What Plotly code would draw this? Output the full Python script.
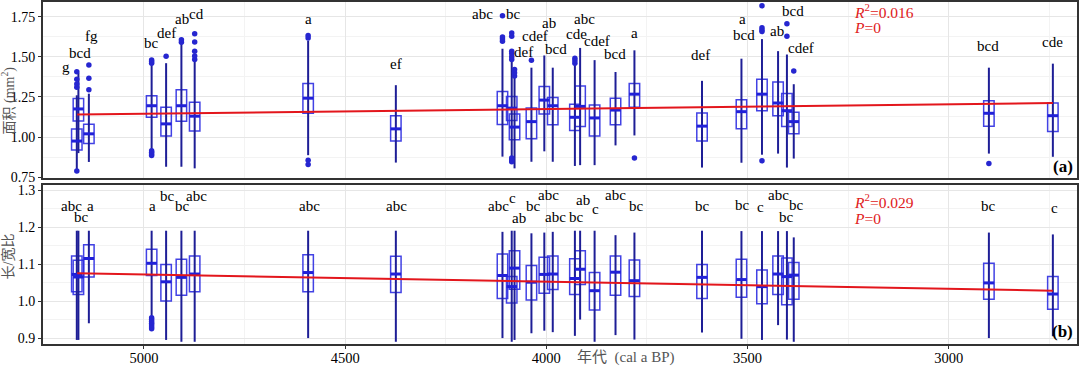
import plotly.graph_objects as go

# ---------------- data ----------------
years = [5167, 5163, 5137, 4981, 4945, 4907, 4874, 4592, 4374, 4109, 4086, 4079, 4037, 4005,
         3984, 3929, 3916, 3880, 3828, 3781, 3613, 3515, 3464, 3424, 3402, 3385, 2900, 2741]

# panel (a): area (mm2)
area_q1 = [0.920, 1.100, 0.960, 1.123, 1.006, 1.099, 1.037, 1.148, 0.975, 1.078, 1.103, 0.983, 0.990, 1.144,
           1.076, 1.041, 1.066, 1.006, 1.076, 1.185, 0.975, 1.051, 1.164, 1.133, 1.066, 1.020, 1.068, 1.035]
area_med = [0.975, 1.175, 1.020, 1.195, 1.082, 1.195, 1.130, 1.242, 1.051, 1.195, 1.180, 1.062, 1.096, 1.230,
            1.195, 1.123, 1.191, 1.119, 1.168, 1.267, 1.068, 1.158, 1.267, 1.212, 1.164, 1.096, 1.148, 1.133]
area_q3 = [1.050, 1.240, 1.080, 1.257, 1.185, 1.294, 1.216, 1.333, 1.133, 1.284, 1.253, 1.144, 1.181, 1.315,
           1.247, 1.205, 1.318, 1.199, 1.242, 1.333, 1.150, 1.232, 1.360, 1.343, 1.271, 1.154, 1.226, 1.212]
area_lo = [0.800, 0.900, 0.845, 0.920, 0.815, 0.815, 0.805, 0.887, 0.841, 0.878, 0.880, 0.805, 0.846, 0.911,
           0.846, 0.820, 0.825, 0.825, 0.948, 1.010, 0.810, 0.840, 0.890, 0.897, 0.810, 0.866, 0.897, 0.877]
area_hi = [1.260, 1.400, 1.270, 1.455, 1.460, 1.590, 1.470, 1.600, 1.323, 1.550, 1.470, 1.370, 1.432, 1.508,
           1.432, 1.450, 1.555, 1.479, 1.405, 1.540, 1.350, 1.488, 1.610, 1.535, 1.514, 1.329, 1.432, 1.457]
area_out = [[0.788, 1.31, 1.33, 1.36, 1.407], [], [1.294, 1.366, 1.448],
            [0.885, 0.895, 0.905, 0.915, 1.46, 1.47, 1.48], [1.503], [1.59, 1.606], [1.483, 1.504, 1.534, 1.592, 1.643],
            [0.829, 0.856, 1.617, 1.632], [], [1.596, 1.610, 1.623, 1.755],
            [0.846, 0.858, 0.870, 1.483, 1.50, 1.52, 1.535, 1.627, 1.648], [1.38, 1.40, 1.42], [1.479], [],
            [], [1.46, 1.475, 1.49], [], [], [], [0.870],
            [], [], [0.852, 1.657, 1.667, 1.68, 1.817], [], [1.627, 1.705], [1.411], [0.835], []]

# panel (b): length/width ratio
ratio_q1 = [1.025, 1.018, 1.065, 1.069, 1.000, 1.016, 1.025, 1.025, 1.023, 1.007, 0.995, 1.032, 1.003, 1.021,
            1.031, 1.018, 1.045, 0.976, 1.016, 1.012, 1.007, 1.010, 0.993, 1.018, 0.990, 1.005, 1.005, 0.978]
ratio_med = [1.072, 1.065, 1.115, 1.102, 1.052, 1.064, 1.073, 1.077, 1.073, 1.069, 1.039, 1.089, 1.051, 1.072,
             1.073, 1.061, 1.086, 1.028, 1.078, 1.055, 1.064, 1.058, 1.039, 1.073, 1.066, 1.070, 1.049, 1.019]
ratio_q3 = [1.122, 1.110, 1.152, 1.140, 1.099, 1.113, 1.122, 1.125, 1.121, 1.127, 1.066, 1.136, 1.096, 1.118,
            1.122, 1.114, 1.136, 1.077, 1.122, 1.111, 1.099, 1.113, 1.084, 1.122, 1.116, 1.104, 1.102, 1.066]
ratio_lo = [0.895, 0.895, 0.940, 0.960, 0.895, 0.890, 0.890, 0.900, 0.890, 0.900, 0.890, 0.895, 0.913, 0.920,
            0.916, 0.906, 0.950, 0.890, 0.908, 0.896, 0.915, 0.898, 0.895, 0.935, 0.896, 0.890, 0.900, 0.905]
ratio_hi = [1.190, 1.190, 1.190, 1.190, 1.190, 1.190, 1.190, 1.190, 1.190, 1.187, 1.190, 1.190, 1.183, 1.185,
            1.187, 1.190, 1.190, 1.190, 1.178, 1.185, 1.190, 1.189, 1.189, 1.189, 1.189, 1.172, 1.185, 1.180]
ratio_out = [[], [], [], [0.925, 0.930, 0.935, 0.940, 0.945, 0.950, 0.955]] + [[] for _ in range(24)]

# significance letters
area_labels = ["g", "bcd", "fg", "bc", "def", "ab", "cd", "a", "ef", "abc", "bc", "def", "cdef", "ab",
               "bcd", "cde", "abc", "cdef", "bcd", "a", "def", "a", "bcd", "ab", "bcd", "cdef", "bcd", "cde"]
area_label_x = [5194, 5159, 5130, 4981, 4944, 4906, 4869, 4592, 4374, 4158, 4082, 4057, 4028, 3993,
                3976, 3926, 3906, 3873, 3829, 3781, 3618, 3513, 3509, 3426, 3386, 3368, 2901, 2741]
area_label_y = [1.434, 1.525, 1.627, 1.586, 1.648, 1.736, 1.767, 1.734, 1.452, 1.767, 1.767, 1.529, 1.627, 1.709,
                1.549, 1.644, 1.734, 1.596, 1.520, 1.648, 1.514, 1.734, 1.638, 1.658, 1.785, 1.555, 1.570, 1.590]

ratio_labels = ["abc", "bc", "a", "a", "bc", "bc", "abc", "abc", "abc", "abc", "c", "ab", "bc", "abc",
                "abc", "bc", "ab", "c", "abc", "bc", "bc", "bc", "c", "abc", "bc", "bc", "bc", "c"]
ratio_label_x = [5181, 5155, 5134, 4980, 4941, 4904, 4869, 4589, 4372, 4118, 4085, 4067, 4032, 3995,
                 3976, 3924, 3910, 3879, 3827, 3775, 3611, 3512, 3467, 3423, 3404, 3379, 2901, 2737]
ratio_label_y = [1.257, 1.226, 1.257, 1.257, 1.285, 1.257, 1.285, 1.257, 1.257, 1.257, 1.279, 1.225, 1.257, 1.287,
                 1.226, 1.226, 1.273, 1.250, 1.287, 1.257, 1.257, 1.260, 1.253, 1.287, 1.226, 1.260, 1.257, 1.252]

# linear fits
fit_years = [5166, 2741]
area_fit = [1.140, 1.212]
ratio_fit = [1.075, 1.028]
area_stats = ["<i>R</i><sup>2</sup>=0.016", "<i>P</i>=0"]
ratio_stats = ["<i>R</i><sup>2</sup>=0.029", "<i>P</i>=0"]
stats_year = 3240
area_stats_y = [1.785, 1.681]
ratio_stats_y = [1.271, 1.224]

# ---------------- style ----------------
FONT = "Liberation Serif, serif"
CJK_FONT = "Liberation Serif, Noto Sans CJK SC, serif"
BOX_W = 26
BOX_COLOR = "rgba(45,45,225,0.9)"
WHISK_COLOR = "#1e1e96"
MED_COLOR = "#2020d8"
OUT_COLOR = "#2626d0"
FIT_COLOR = "#e3161c"

fig = go.Figure()


def add_panel(q1, med, q3, lo, hi, outs, fit, xa, ya):
    wx, wy = [], []
    for yr, a, b in zip(years, lo, hi):
        wx += [yr, yr, None]
        wy += [a, b, None]
    fig.add_trace(go.Scatter(x=wx, y=wy, mode="lines", line=dict(color=WHISK_COLOR, width=2),
                             xaxis=xa, yaxis=ya, hoverinfo="skip", showlegend=False))
    fig.add_trace(go.Box(x=years, q1=q1, median=med, q3=q3, lowerfence=q1, upperfence=q3,
                         width=BOX_W, whiskerwidth=0, boxpoints=False,
                         line=dict(color=BOX_COLOR, width=1.5), fillcolor="rgba(255,255,255,0)",
                         xaxis=xa, yaxis=ya, showlegend=False))
    mx, my = [], []
    for yr, m in zip(years, med):
        mx += [yr + BOX_W / 2, yr - BOX_W / 2, None]
        my += [m, m, None]
    fig.add_trace(go.Scatter(x=mx, y=my, mode="lines", line=dict(color=MED_COLOR, width=3),
                             xaxis=xa, yaxis=ya, hoverinfo="skip", showlegend=False))
    ox, oy = [], []
    for yr, vals in zip(years, outs):
        for v in vals:
            ox.append(yr)
            oy.append(v)
    fig.add_trace(go.Scatter(x=ox, y=oy, mode="markers", marker=dict(color=OUT_COLOR, size=5.5),
                             xaxis=xa, yaxis=ya, showlegend=False))
    fig.add_trace(go.Scatter(x=fit_years, y=fit, mode="lines", line=dict(color=FIT_COLOR, width=2),
                             xaxis=xa, yaxis=ya, showlegend=False))


add_panel(area_q1, area_med, area_q3, area_lo, area_hi, area_out, area_fit, "x", "y")
add_panel(ratio_q1, ratio_med, ratio_q3, ratio_lo, ratio_hi, ratio_out, ratio_fit, "x2", "y2")

ann = []
for t, x, y in zip(area_labels, area_label_x, area_label_y):
    ann.append(dict(text=t, x=x, y=y, xref="x", yref="y", showarrow=False,
                    font=dict(family=FONT, size=15, color="black")))
for t, x, y in zip(ratio_labels, ratio_label_x, ratio_label_y):
    ann.append(dict(text=t, x=x, y=y, xref="x2", yref="y2", showarrow=False,
                    font=dict(family=FONT, size=15, color="black")))
for t, y in zip(area_stats, area_stats_y):
    ann.append(dict(text=t, x=stats_year, y=y, xref="x", yref="y", xanchor="left", showarrow=False,
                    font=dict(family=FONT, size=15.5, color="#e02020")))
for t, y in zip(ratio_stats, ratio_stats_y):
    ann.append(dict(text=t, x=stats_year, y=y, xref="x2", yref="y2", xanchor="left", showarrow=False,
                    font=dict(family=FONT, size=15.5, color="#e02020")))
ann.append(dict(text="<b>(a)</b>", x=0.998, y=0.518, xref="paper", yref="paper", xanchor="right",
                yanchor="middle", showarrow=False, font=dict(family=FONT, size=17, color="black")))
ann.append(dict(text="<b>(b)</b>", x=0.998, y=0.038, xref="paper", yref="paper", xanchor="right",
                yanchor="middle", showarrow=False, font=dict(family=FONT, size=17, color="black")))
ann.append(dict(text="面积 (mm<sup>2</sup>)", x=-0.0335, y=0.713, xref="paper", yref="paper", textangle=-90,
                xanchor="center", yanchor="middle",
                showarrow=False, font=dict(family=CJK_FONT, size=14, color="#555555")))
ann.append(dict(text="长/宽比", x=-0.0335, y=0.257, xref="paper", yref="paper", textangle=-90,
                xanchor="center", yanchor="middle",
                showarrow=False, font=dict(family=CJK_FONT, size=14, color="#555555")))
ann.append(dict(text="年代  (cal a BP)", x=0.563, y=-0.040, xref="paper", yref="paper",
                xanchor="center", yanchor="middle",
                showarrow=False, font=dict(family=CJK_FONT, size=15, color="#555555")))

grid = dict(showgrid=True, gridcolor="#e6e6e6", gridwidth=1, automargin=False,
            showline=True, linecolor="#333333", linewidth=2, mirror=True, zeroline=False)
xcommon = dict(range=[5251, 2681], dtick=500, tick0=5000,
               minor=dict(dtick=250, showgrid=True, gridcolor="#f3f3f3", gridwidth=1), **grid)

fig.update_layout(
    width=1080, height=367,
    margin=dict(l=43, r=3, t=2, b=23),
    paper_bgcolor="white", plot_bgcolor="white",
    font=dict(family=FONT, size=15, color="black"),
    showlegend=False,
    annotations=ann,
    xaxis=dict(anchor="y", domain=[0, 1], showticklabels=False, ticks="", **xcommon),
    yaxis=dict(domain=[0.4854, 1], range=[0.745, 1.841], tickvals=[0.75, 1.0, 1.25, 1.5, 1.75],
               tickformat=".2f", ticks="outside", ticklen=3, tickcolor="#333333",
               minor=dict(dtick=0.125, tick0=0.75, showgrid=True, gridcolor="#f3f3f3"),
               tickfont=dict(family=FONT, size=14, color="black"), **grid),
    xaxis2=dict(anchor="y2", domain=[0, 1], matches="x", ticks="outside", ticklen=3, tickcolor="#333333",
                ticklabelstandoff=-3,
                tickfont=dict(family=FONT, size=14.5, color="black"), **xcommon),
    yaxis2=dict(domain=[0, 0.4649], range=[0.884, 1.3135], tickvals=[0.9, 1.0, 1.1, 1.2, 1.3],
                tickformat=".1f", ticks="outside", ticklen=3, tickcolor="#333333",
                minor=dict(dtick=0.05, tick0=0.9, showgrid=True, gridcolor="#f3f3f3"),
                tickfont=dict(family=FONT, size=14, color="black"), **grid),
)

fig.write_html("out.html", config={"displayModeBar": False},
               post_script="document.body.style.margin='0';document.body.style.overflow='hidden';")
